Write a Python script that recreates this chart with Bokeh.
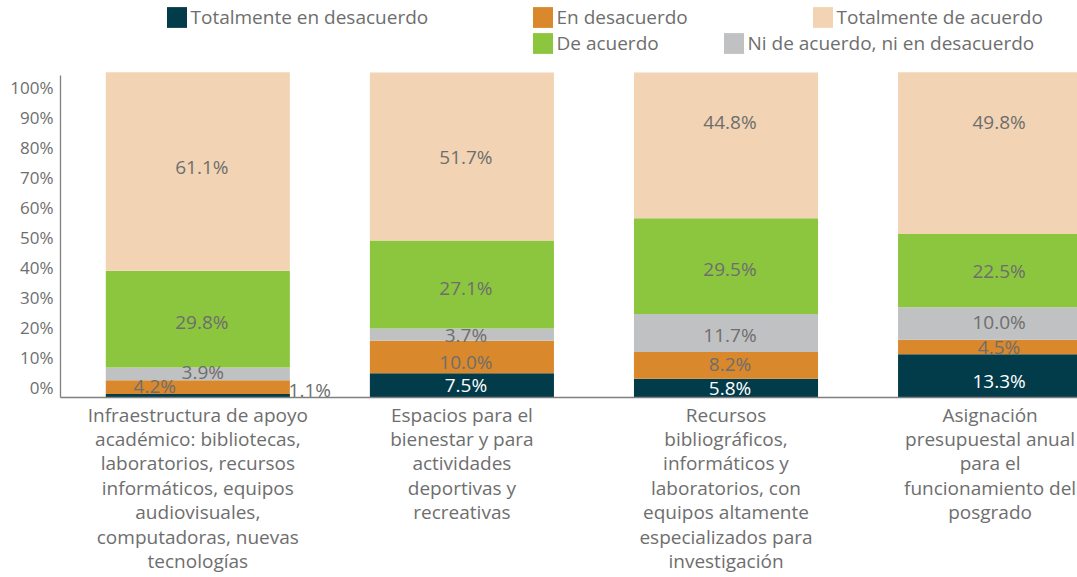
from bokeh.plotting import figure
from bokeh.models import Range1d, LinearAxis, FixedTicker, Legend, LegendItem, ColumnDataSource
from bokeh.core.properties import value
from bokeh.embed import file_html
from bokeh.resources import INLINE

# ---------------- data ----------------
categories = [
    "Infraestructura de apoyo\nacadémico: bibliotecas,\nlaboratorios, recursos\ninformáticos, equipos\naudiovisuales,\ncomputadoras, nuevas\ntecnologías",
    "Espacios para el\nbienestar y para\nactividades\ndeportivas y\nrecreativas",
    "Recursos\nbibliográficos,\ninformáticos y\nlaboratorios, con\nequipos altamente\nespecializados para\ninvestigación",
    "Asignación\npresupuestal anual\npara el\nfuncionamiento del\nposgrado",
]
series_names = ["Totalmente en desacuerdo", "En desacuerdo",
                "Ni de acuerdo, ni en desacuerdo", "De acuerdo", "Totalmente de acuerdo"]
totalmente_desacuerdo = [1.1, 7.5, 5.8, 13.3]
en_desacuerdo = [4.2, 10.0, 8.2, 4.5]
ni_ni = [3.9, 3.7, 11.7, 10.0]
de_acuerdo = [29.8, 27.1, 29.5, 22.5]
totalmente_acuerdo = [61.1, 51.7, 44.8, 49.8]
y_tick_values = [0, 10, 20, 30, 40, 50, 60, 70, 80, 90, 100]
y_tick_labels = ["0%", "10%", "20%", "30%", "40%", "50%", "60%", "70%", "80%", "90%", "100%"]

# ---------------- styles ----------------
colors = ["#023b4a", "#d9882c", "#c0c1c3", "#8cc63f", "#f2d4b4"]
label_colors = [["#6e6e6e", "#ffffff", "#ffffff", "#ffffff"]] + [["#6e6e6e"] * 4] * 4
# manual label displacements in pixels (x, y) per series / category
label_dx = [[112, 4, 4, 9], [-43, 4, 4, 9], [5, 4, 4, 9], [4, 4, 4, 9], [4, 4, 4, 9]]
label_dy = [[-6, 0, 0, 5], [-1.5, 5, -1, 0], [-1.5, 0, 1.5, -1], [3, 3, 3, 0], [-5, 0, -23.4, -31.3]]
FONT = "Open Sans"
TXT = "#6e6e6e"

series = [totalmente_desacuerdo, en_desacuerdo, ni_ni, de_acuerdo, totalmente_acuerdo]
xs = list(range(len(categories)))

src = ColumnDataSource(dict(x=xs, **{f"s{i}": s for i, s in enumerate(series)}))

# frame covers the full height above the x axis (legend lives inside it)
p = figure(width=1077, height=577, output_backend="svg", toolbar_location=None,
           x_range=Range1d(-0.52, 3.331), y_range=Range1d(0, 122.19),
           y_axis_location=None, min_border_left=60, min_border_right=0,
           min_border_top=0, min_border_bottom=175)
p.outline_line_color = None
p.xgrid.visible = False
p.ygrid.visible = False

# tick-label scale (as drawn in the original chart)
p.extra_y_ranges = {"ticks": Range1d(-3.29, 128.95)}
yax = LinearAxis(y_range_name="ticks", ticker=FixedTicker(ticks=y_tick_values),
                 major_label_overrides={v: l for v, l in zip(y_tick_values, y_tick_labels)},
                 bounds=(-3.29, 104.0))
yax.major_tick_out = 0
yax.major_tick_in = 0
yax.minor_tick_out = 0
yax.minor_tick_in = 0
yax.axis_line_color = "#7f7f7f"
yax.axis_line_width = 1.3
yax.major_label_text_font = FONT
yax.major_label_text_font_size = "17px"
yax.major_label_text_color = TXT
yax.major_label_standoff = 7
p.add_layout(yax, "left")

xax = p.xaxis[0]
xax.ticker = FixedTicker(ticks=xs)
xax.major_label_overrides = {x: c for x, c in zip(xs, categories)}
xax.major_tick_out = 0
xax.major_tick_in = 0
xax.minor_tick_out = 0
xax.minor_tick_in = 0
xax.axis_line_color = "#7f7f7f"
xax.axis_line_width = 1.3
xax.major_label_text_font = FONT
xax.major_label_text_font_size = "19px"
xax.major_label_text_color = TXT
xax.major_label_text_line_height = 0.94
xax.major_label_text_align = "center"
xax.major_label_standoff = 4

renderers = p.vbar_stack([f"s{i}" for i in range(5)], x="x", width=0.697, source=src,
                         color=colors, line_color=None)

# data labels
lx, ly, lt, lc, ldx, ldy = [], [], [], [], [], []
for j in xs:
    base = 0.0
    for i, s in enumerate(series):
        v = s[j]
        lx.append(j)
        ly.append(base + v / 2)
        lt.append(f"{v:.1f}%")
        lc.append(label_colors[i][j])
        ldx.append(label_dx[i][j])
        ldy.append(label_dy[i][j])
        base += v
lsrc = ColumnDataSource(dict(x=lx, y=ly, t=lt, c=lc, dx=ldx, dy=ldy))
p.text(x="x", y="y", text="t", source=lsrc, text_color="c", x_offset="dx", y_offset="dy",
       text_align="center", text_baseline="middle", text_font=value(FONT),
       text_font_size="19px")

# legend: individually placed entries (two rows)
legend_pos = [(103.5, 366.6), (469.5, 366.6), (660.5, 340.6), (469.5, 340.6), (749.5, 366.6)]
for i, r in enumerate(renderers):
    lg = Legend(items=[LegendItem(label=series_names[i], renderers=[r])],
                location=legend_pos[i], orientation="horizontal",
                padding=0, margin=0, spacing=0, border_line_color=None,
                background_fill_alpha=0, glyph_width=25, glyph_height=26,
                label_height=26, label_standoff=2,
                label_text_font=FONT, label_text_font_size="19px",
                label_text_color=TXT)
    p.add_layout(lg, "center")

open("out.html", "w").write(file_html(p, INLINE))
